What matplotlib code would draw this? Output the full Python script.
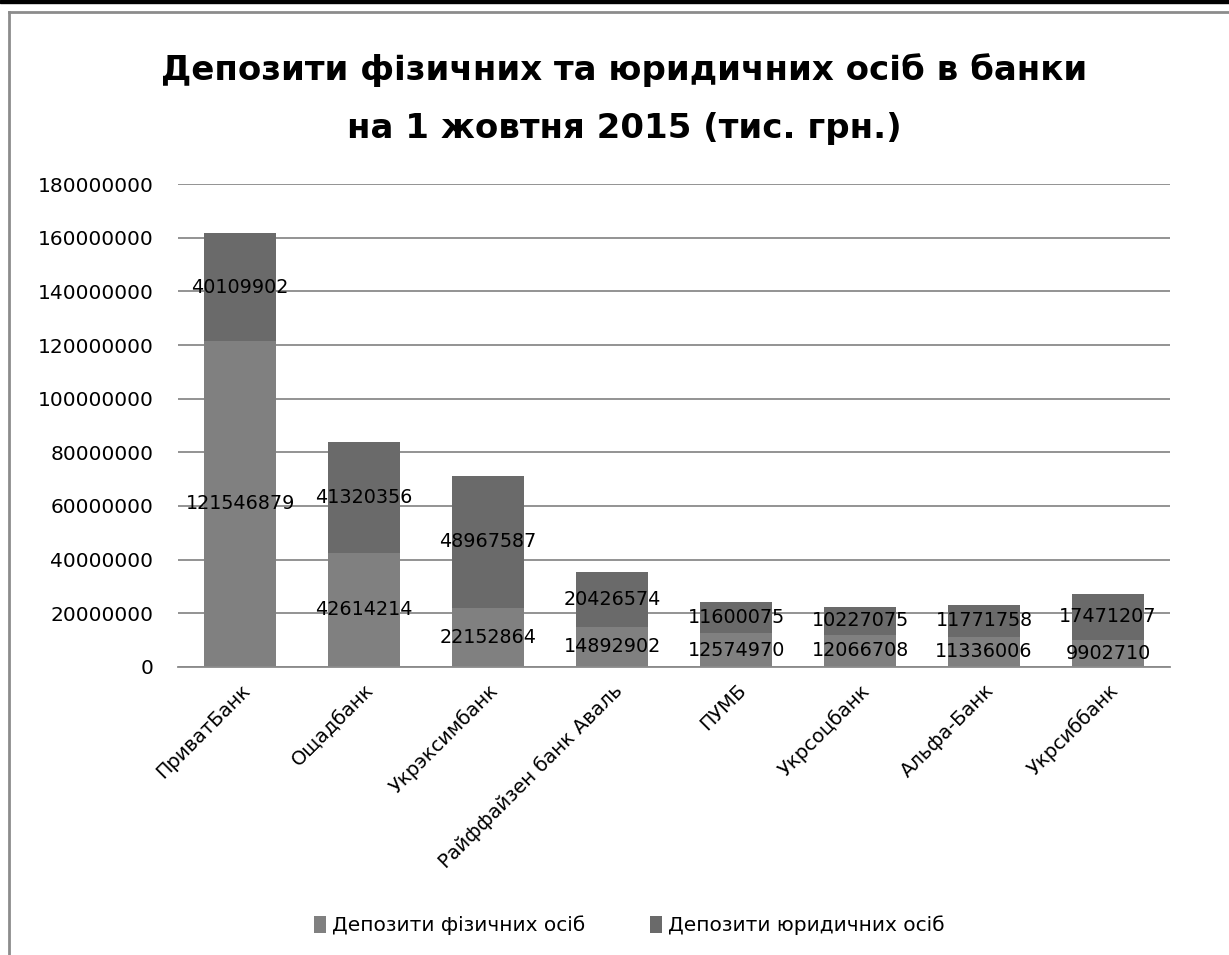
import numpy as np
import matplotlib
matplotlib.use("Agg")
import matplotlib.pyplot as plt
from matplotlib.lines import Line2D
from matplotlib.patches import Rectangle

# дані
banks = ["ПриватБанк", "Ощадбанк", "Укрэксимбанк", "Райффайзен банк Аваль",
         "ПУМБ", "Укрсоцбанк", "Альфа-Банк", "Укрсиббанк"]
fiz = [121546879, 42614214, 22152864, 14892902, 12574970, 12066708, 11336006, 9902710]
yur = [40109902, 41320356, 48967587, 20426574, 11600075, 10227075, 11771758, 17471207]
series_names = ["Депозити фізичних осіб", "Депозити юридичних осіб"]
yticks = np.arange(0, 180000001, 20000000)

fig = plt.figure(figsize=(12.29, 9.55), dpi=100)
ax = fig.add_axes([0.145, 0.3016, 0.807, 0.5057])

x = np.arange(len(banks))
w = 0.58
b1 = ax.bar(x, fiz, w, color="#808080", label=series_names[0], zorder=2)
b2 = ax.bar(x, yur, w, bottom=fiz, color="#6a6a6a", label=series_names[1], zorder=2)

# підписи даних по центру сегментів
for i in range(len(banks)):
    ax.text(x[i], fiz[i] / 2, str(fiz[i]), ha="center", va="center", fontsize=13.8, zorder=3)
    ax.text(x[i], fiz[i] + yur[i] / 2, str(yur[i]), ha="center", va="center", fontsize=13.8, zorder=3)

ax.set_ylim(0, 180000000)
ax.set_xlim(-0.5, len(banks) - 0.5)
ax.set_yticks(yticks)
ax.set_yticklabels([str(v) for v in yticks], fontsize=14.5)
ax.set_xticks(x)
ax.set_xticklabels(banks, rotation=45, ha="right", rotation_mode="anchor", fontsize=14)
ax.tick_params(axis="both", length=0, pad=18)
ax.tick_params(axis="x", pad=10)
ax.yaxis.grid(True, color="#8a8a8a", linewidth=1.3, zorder=0)
ax.set_axisbelow(True)
for s in ["top", "right", "left"]:
    ax.spines[s].set_visible(False)
ax.spines["bottom"].set_color("#8a8a8a")
ax.spines["bottom"].set_linewidth(1.3)

fig.text(0.508, 0.927, "Депозити фізичних та юридичних осіб в банки",
         ha="center", va="center", fontsize=24.5, fontweight="bold")
fig.text(0.508, 0.865, "на 1 жовтня 2015 (тис. грн.)",
         ha="center", va="center", fontsize=24.5, fontweight="bold")

fig.legend(handles=[b1, b2], labels=series_names, loc="center", bbox_to_anchor=(0.512, 0.031),
           ncol=2, frameon=False, fontsize=14.5, handlelength=0.6, handleheight=0.9,
           handletextpad=0.3, columnspacing=3.2)

# рамка
fig.patches.append(Rectangle((0, 1 - 3 / 955), 1, 3 / 955, transform=fig.transFigure,
                             color="black", zorder=5))
fig.lines.append(Line2D([9 / 1229, 9 / 1229], [0, 1 - 12 / 955], transform=fig.transFigure,
                        color="#8c8c8c", linewidth=2))
fig.lines.append(Line2D([9 / 1229, 1], [1 - 12 / 955, 1 - 12 / 955], transform=fig.transFigure,
                        color="#8c8c8c", linewidth=2))

fig.savefig("out.png", dpi=100)
